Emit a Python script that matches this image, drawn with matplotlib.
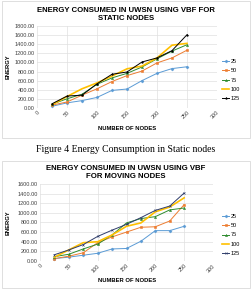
import matplotlib
matplotlib.use("Agg")
import matplotlib.pyplot as plt
from matplotlib.patches import Rectangle
from matplotlib.ticker import FormatStrFormatter

# number of nodes on the x axis
nodes = [25, 50, 75, 100, 125, 150, 175, 200, 225, 250]
series_names = ["25", "50", "75", "100", "125"]

# energy for static nodes (top chart)
static_25 = [35, 110, 160, 230, 385, 415, 600, 760, 865, 905]
static_50 = [60, 130, 280, 420, 580, 710, 810, 990, 1100, 1270]
static_75 = [80, 200, 300, 520, 660, 760, 900, 1080, 1250, 1390]
static_100 = [70, 250, 420, 550, 700, 860, 920, 1100, 1380, 1420]
static_125 = [90, 260, 280, 530, 740, 790, 1010, 1100, 1260, 1610]

# energy for moving nodes (bottom chart)
moving_25 = [50, 80, 120, 160, 250, 260, 410, 630, 630, 720]
moving_50 = [50, 100, 170, 380, 500, 600, 700, 710, 830, 1170]
moving_75 = [90, 140, 250, 350, 540, 790, 880, 920, 1060, 1100]
moving_100 = [80, 230, 380, 400, 540, 720, 790, 1020, 1120, 1310]
moving_125 = [130, 230, 340, 510, 640, 760, 900, 1050, 1140, 1410]

colors = ["#5B9BD5", "#ED7D31", "#2E8B2E", "#FFC000", "#000000"]
markers = ["D", "s", "^", "", "*"]

W, H = 252, 290
fig = plt.figure(figsize=(W / 100, H / 100), dpi=100)
plt.rcParams["font.family"] = ["Liberation Sans", "DejaVu Sans"]


def px(x, y):
    # pixel (top-left origin) -> figure fraction
    return x / W, 1 - y / H


def draw_chart(rect, title, title_y, series, ymax, last_color, last_marker, xlabel_y, leg_y, box):
    bx0, by0, bx1, by1 = box
    fig.patches.append(Rectangle(px(bx0, by1), (bx1 - bx0) / W, (by1 - by0) / H,
                                 transform=fig.transFigure, fill=False,
                                 edgecolor="#d9d9d9", linewidth=0.6))
    ax = fig.add_axes(rect)
    cols = colors[:4] + [last_color]
    mks = markers[:4] + [last_marker]
    for vals, name, c, m in zip(series, series_names, cols, mks):
        lw = 1.2 if name == "100" else 0.7
        ax.plot(nodes, vals, color=c, marker=m, markersize=1.5, linewidth=lw,
                markeredgewidth=0.4, label=name)
    ax.set_xlim(0, 300)
    ax.set_ylim(0, ymax)
    ax.set_xticks(range(0, 301, 50))
    ax.set_yticks(range(0, ymax + 1, 200))
    ax.yaxis.set_major_formatter(FormatStrFormatter("%.2f"))
    ax.tick_params(length=0, labelsize=4, pad=1.5, colors="#404040")
    for lab in ax.get_xticklabels():
        lab.set_rotation(45)
        lab.set_ha("right")
        lab.set_rotation_mode("anchor")
    ax.grid(True, color="#e0e0e0", linewidth=0.5)
    for s in ax.spines.values():
        s.set_visible(False)
    ax.axhline(0, color="#d0d0d0", linewidth=0.6)
    fig.text(0.5, 1 - title_y / H, title, ha="center", va="center",
             fontsize=5.6, fontweight="bold", linespacing=1.2)
    fig.text(*px(127, xlabel_y), "NUMBER OF NODES", ha="center", va="center",
             fontsize=4.2, fontweight="bold")
    fig.text(*px(8, (rect[1] * -H + H) - rect[3] * H / 2), "ENERGY", ha="center",
             va="center", rotation=90, fontsize=4.2, fontweight="bold")
    ax.legend(loc="center left", bbox_to_anchor=(px(222, leg_y)),
              bbox_transform=fig.transFigure, frameon=False, fontsize=4,
              handlelength=1.3, handletextpad=0.2, labelspacing=0.75,
              borderpad=0, borderaxespad=0)
    return ax


draw_chart([37 / W, 0.628, 180 / W, 0.282],
           "ENERGY CONSUMED IN UWSN USING VBF FOR\nSTATIC NODES", 15,
           [static_25, static_50, static_75, static_100, static_125], 1800,
           "#000000", "*", 128, 80, (2, 1, 250, 138))

fig.text(0.5, 1 - 149 / H, "Figure 4 Energy Consumption in Static nodes",
         ha="center", va="center", fontsize=7, family=["Liberation Serif"])

draw_chart([40 / W, 0.10, 173 / W, 0.266],
           "ENERGY CONSUMED IN UWSN USING VBF\nFOR MOVING NODES", 172,
           [moving_25, moving_50, moving_75, moving_100, moving_125], 1600,
           "#2F3D6B", "x", 280, 235, (2, 161, 250, 288))

fig.savefig("out.png", dpi=100)
